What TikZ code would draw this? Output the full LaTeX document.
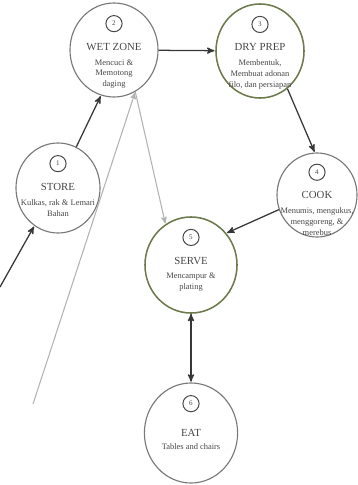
\documentclass[tikz,border=0pt]{standalone}
\usepackage{fontspec}
\setmainfont{Liberation Serif}
\usepackage{tikz}
\usetikzlibrary{arrows,positioning,shapes.geometric}

\definecolor{ringgray}{RGB}{120,120,120}
\definecolor{ringgreen}{RGB}{108,122,76}
\definecolor{linkdark}{RGB}{55,55,55}
\definecolor{linklight}{RGB}{178,178,178}
\definecolor{inkgray}{RGB}{70,70,70}

\begin{document}
\begin{tikzpicture}[x=0.025cm,y=-0.025cm,>=stealth',shorten >=0.5pt,
                    main node/.style={ellipse,draw=ringgray,line width=0.8pt,inner sep=0pt},
                    prep node/.style={main node,draw=ringgreen,line width=1.1pt},
                    num node/.style={circle,draw=inkgray,line width=0.7pt,minimum size=11.5pt,inner sep=0pt,text=inkgray,font=\fontsize{5}{5}\selectfont},
                    title node/.style={inner sep=0pt,text=inkgray,font=\fontsize{7.7}{9}\selectfont},
                    desc node/.style={align=center,inner sep=0pt,text=inkgray,font=\fontsize{6}{7.8}\selectfont},
                    dark link/.style={draw=linkdark,line width=0.9pt},
                    light link/.style={draw=linklight,line width=0.75pt}]

  \useasboundingbox (0,0) rectangle (357,485);

  % stations
  \node[main node, minimum width=2.1cm, minimum height=2.25cm] (1) at (58,188) {};
  \node[main node, minimum width=2.2cm, minimum height=2.35cm] (2) at (114,50) {};
  \node[prep node, minimum width=2.2cm, minimum height=2.35cm] (3) at (260,51) {};
  \node[main node, minimum width=2.0cm, minimum height=2.1cm] (4) at (317,195) {};
  \node[prep node, minimum width=2.3cm, minimum height=2.4cm] (5) at (191,265) {};
  \node[main node, minimum width=2.33cm, minimum height=2.5cm] (6) at (191,433) {};

  % numbers
  \node[num node, below=9pt of 1.north] (n1) {1};
  \node[num node, below=9pt of 2.north] (n2) {2};
  \node[num node, below=9pt of 3.north] (n3) {3};
  \node[num node, below=8pt of 4.north] (n4) {4};
  \node[num node, below=9pt of 5.north] (n5) {5};
  \node[num node, below=9pt of 6.north] (n6) {6};

  % titles
  \node[title node, below=7.5pt of n1] (t1) {STORE};
  \node[title node, below=7.5pt of n2] (t2) {WET ZONE};
  \node[title node, below=7.5pt of n3] (t3) {DRY PREP};
  \node[title node, below=7.5pt of n4] (t4) {COOK};
  \node[title node, below=7.5pt of n5] (t5) {SERVE};
  \node[title node, below=12pt of n6] (t6) {EAT};

  % descriptions
  \node[desc node, below=6pt of t1] (d1) {Kulkas, rak \& Lemari\\Bahan};
  \node[desc node, below=6pt of t2] (d2) {Mencuci \&\\Memotong\\daging};
  \node[desc node, below=6pt of t3] (d3) {Membentuk,\\Membuat adonan\\filo, dan persiapan};
  \node[desc node, below=6pt of t4] (d4) {Menumis, mengukus,\\menggoreng, \&\\merebus};
  \node[desc node, below=6pt of t5] (d5) {Mencampur \&\\plating};
  \node[desc node, below=5pt of t6] (d6) {Tables and chairs};

  \coordinate (in1) at (0,287);
  \coordinate (in2) at (33,404);

  \path[->]
    (in1) edge [dark link] (1.238)
    (1.66) edge [dark link] (2.254)
    (2) edge [dark link] (3)
    (3.306) edge [dark link] (4.93)
    (4.201) edge [dark link] (5.42)
    (2.297) edge [light link] (5.122)
    (in2) edge [light link] (2.297);
  \draw[<->, dark link] (5) -- (6);
\end{tikzpicture}
\end{document}
